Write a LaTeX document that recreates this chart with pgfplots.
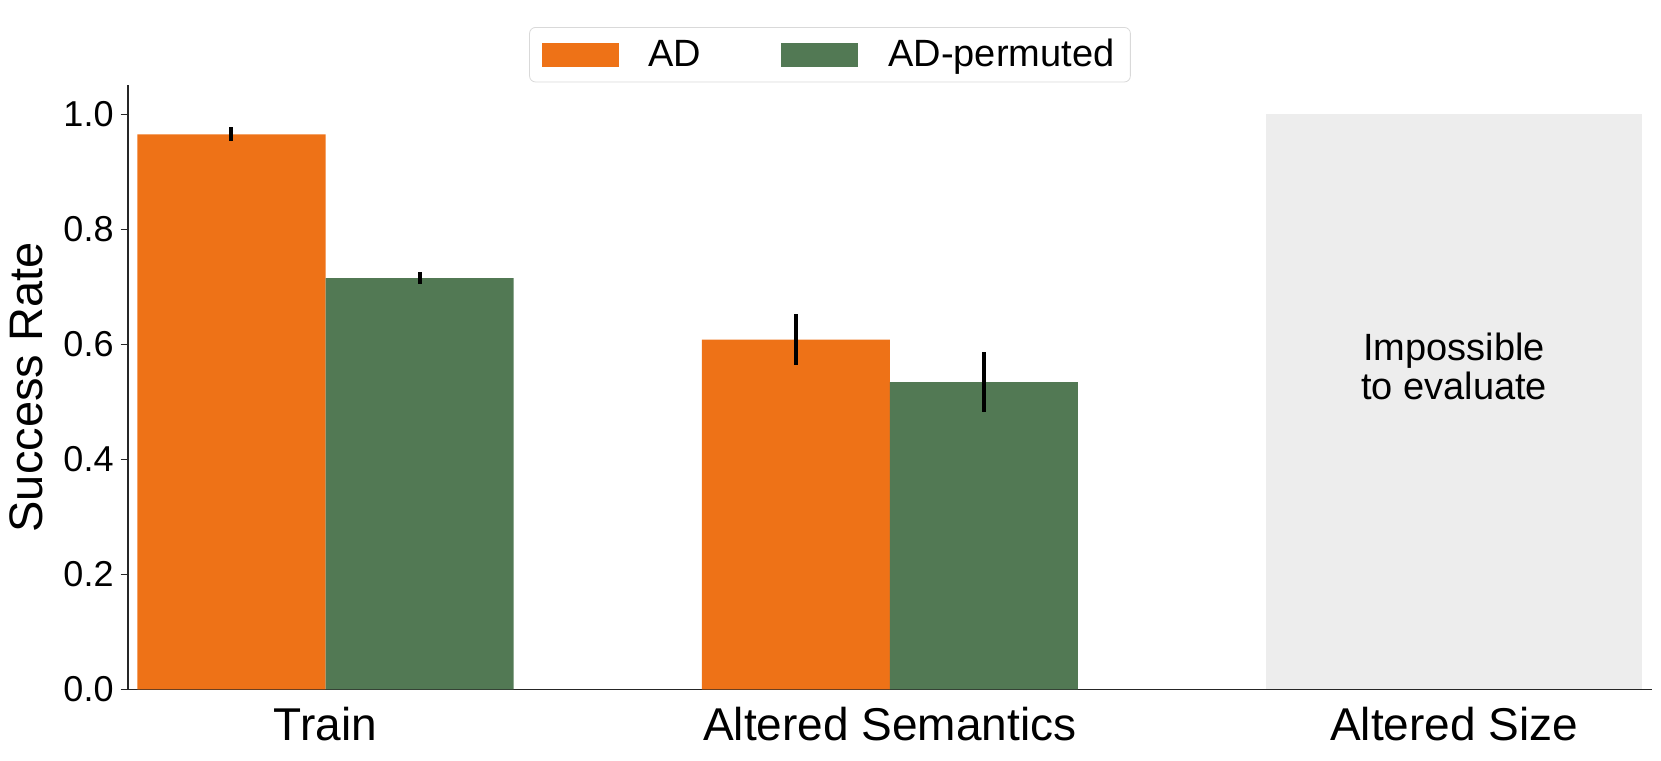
\documentclass[border=0pt]{standalone}
\usepackage{pgfplots}
\pgfplotsset{compat=1.18}
\usetikzlibrary{calc}
\usepackage{fontspec}
\setmainfont{Liberation Sans}
\definecolor{adorange}{HTML}{EE7217}
\definecolor{adgreen}{HTML}{527954}
\definecolor{nagray}{HTML}{EDEDED}

\pgfplotsset{
  patchlegend/.style={legend image code/.code={\fill[##1,draw=none,sharp corners] (0pt,-6pt) rectangle (38.5pt,6pt);}},
}

\begin{document}
\begin{tikzpicture}
\begin{axis}[
    name=ax, at={(0,0)}, anchor=south west,
    scale only axis, width=761.8pt, height=302pt,
    xmin=-0.35, xmax=2.35, ymin=0, ymax=1.05,
    axis lines=left,
    axis line style={-, line width=0.6pt, black!85},
    xtick={0,1,2},
    xticklabels={Train, Altered Semantics, Altered Size},
    xtick style={draw=none},
    ytick={0,0.2,0.4,0.6,0.8,1.0},
    ytick style={line width=0.6pt, black!85},
    tick align=outside, major tick length=3.7pt,
    yticklabel style={/pgf/number format/fixed, /pgf/number format/fixed zerofill,
        /pgf/number format/precision=1, font=\fontsize{18}{20}\selectfont},
    xticklabel style={font=\fontsize{23}{26}\selectfont, yshift=-1.6pt},
    /pgf/number format/assume math mode=true,
    ylabel={Success Rate},
    every axis y label/.style={at={(axis description cs:-0.0666,0.5)}, anchor=center, rotate=90,
        font=\fontsize{23.5}{26}\selectfont},
    legend columns=2,
    legend style={at={(0.4607,1.005)}, anchor=south, draw=black!15, rounded corners=3pt,
        font=\fontsize{19}{22}\selectfont, inner xsep=6pt, inner ysep=4pt,
        /tikz/every odd column/.append style={column sep=13pt},
        /tikz/every even column/.append style={column sep=38pt}},
]
% not evaluable region
\addplot[ybar, bar width=0.6667, bar shift=0, fill=nagray, draw=none, forget plot]
  coordinates {(2,1.0)};

% bars placed at their own centres (group centre -/+ 1/6)
\addplot[ybar, bar width=0.3333, bar shift=0, fill=adorange, draw=none, patchlegend,
    error bars/.cd, y dir=both, y explicit,
    error bar style={line width=2pt, black}, error mark=none]
  coordinates {(-0.16667,0.965) +- (0,0.012) (0.83333,0.608) +- (0,0.044)};
\addlegendentry{AD}

\addplot[ybar, bar width=0.3333, bar shift=0, fill=adgreen, draw=none, patchlegend,
    error bars/.cd, y dir=both, y explicit,
    error bar style={line width=2pt, black}, error mark=none]
  coordinates {(0.16667,0.715) +- (0,0.010) (1.16667,0.534) +- (0,0.052)};
\addlegendentry{AD-permuted}

\node[align=center, font=\fontsize{19}{19.5}\selectfont] at (axis cs:2,0.561) {Impossible\\to evaluate};
\end{axis}
\pgfresetboundingbox
\useasboundingbox ($(ax.south west)+(-64pt,-35.7pt)$) rectangle ($(ax.north east)+(4.65pt,42.7pt)$);
\end{tikzpicture}
\end{document}
